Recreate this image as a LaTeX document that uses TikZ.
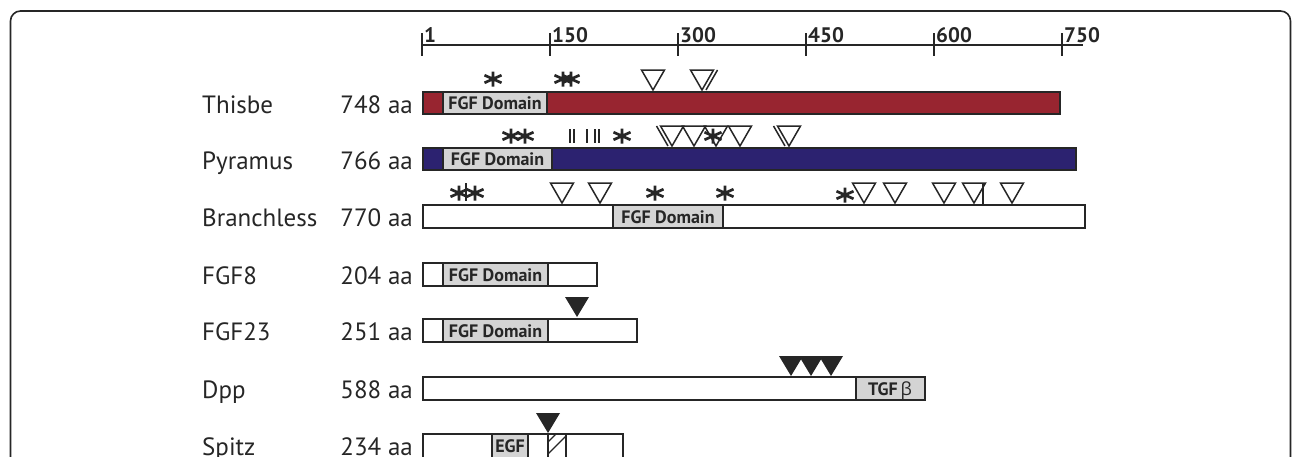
\documentclass[tikz,border=0pt]{standalone}
\usepackage{fontspec}
\setmainfont{PT Sans}
\newfontfamily\grk{Open Sans}
\definecolor{thred}{HTML}{982530}
\definecolor{pyblue}{HTML}{2C2270}
\definecolor{ink}{HTML}{262626}
\definecolor{domgray}{HTML}{D4D4D4}
\begin{document}
\begin{tikzpicture}[x=1pt,y=-1pt,
  gbar/.style={draw=ink, line width=1.7pt},
  gdom/.style={draw=ink, line width=1.7pt, fill=domgray},
  gdomtext/.style={font=\fontsize{18}{18}\selectfont\bfseries, text=ink, inner sep=0pt, anchor=base},
  gname/.style={font=\fontsize{25}{25}\selectfont, text=ink, anchor=base west, inner sep=0pt},
  glen/.style={font=\fontsize{25}{25}\selectfont, text=ink, anchor=base east, inner sep=0pt},
  gruler/.style={font=\fontsize{21}{21}\selectfont\bfseries, text=ink, anchor=base west, inner sep=0pt},
  astk/.pic={\draw[line width=2.7pt, ink] (0,-7.5)--(0,7.5) (-8.5,-3.8)--(8.5,3.8) (-8.5,3.8)--(8.5,-3.8);},
  otri/.pic={\draw[line width=1.5pt, ink, line join=miter] (-11.5,-20)--(11.5,-20)--(0,0)--cycle;},
  ftri/.pic={\fill[ink] (-12,-20)--(12,-20)--(0,0)--cycle;},
  gtick/.style={line width=1.8pt, ink},
  gmk/.style={line width=1.5pt, ink}
]
\useasboundingbox (0,0) rectangle (1292,456);
% frame
\draw[line width=1.6pt, ink, rounded corners=10pt] (10.5,490) -- (10.5,11) -- (1290.5,11) -- (1290.5,490);

% ruler
\draw[gtick] (422,45) -- (1083,45);
\foreach \i/\l in {0/1,1/150,2/300,3/450,4/600,5/750}{
  \draw[gtick] (422+128*\i,33) -- (422+128*\i,56);
  \node[gruler] (r\i) at (424+128*\i,42) {\l};
}

% names and lengths
\node[gname] (n1) at (202,113) {Thisbe};      \node[glen] (l1) at (413,113) {748 aa};
\node[gname] (n2) at (202,169) {Pyramus};     \node[glen] (l2) at (413,169) {766 aa};
\node[gname] (n3) at (202,226) {Branchless};  \node[glen] (l3) at (413,226) {770 aa};
\node[gname] (n4) at (202,284) {FGF8};        \node[glen] (l4) at (413,284) {204 aa};
\node[gname] (n5) at (202,340) {FGF23};       \node[glen] (l5) at (413,340) {251 aa};
\node[gname] (n6) at (202,398) {Dpp};         \node[glen] (l6) at (413,398) {588 aa};
\node[gname] (n7) at (202,455) {Spitz};       \node[glen] (l7) at (413,455) {234 aa};

% Thisbe
\draw[gbar, fill=thred] (423,92) rectangle (1060,114);
\draw[gdom] (443,92) rectangle (547,114);
\node[gdomtext] (d1) at (495,109) {FGF Domain};
\pic at (493,79) {astk};
\pic at (563,79) {astk};
\pic at (571,79) {astk};
\pic at (653,90) {otri};
\pic at (702,90) {otri};
\draw[gmk] (706,90) -- (717.5,70);

% Pyramus
\draw[gbar, fill=pyblue] (423,148) rectangle (1076,170);
\draw[gdom] (443,148) rectangle (552,170);
\node[gdomtext] (d2) at (497.5,165) {FGF Domain};
\pic at (511,136) {astk};
\pic at (525,136) {astk};
\foreach \x in {570,574,587,595,599}{\draw[gmk] (\x,129) -- (\x,143);}
\pic at (622,136) {astk};
\pic at (672,146) {otri};
\draw[gmk] (668,146) -- (656.5,126);
\pic at (694,146) {otri};
\pic at (716,146) {otri};
\pic at (740,146) {otri};
\pic at (713,136) {astk};
\pic at (789,146) {otri};
\draw[gmk] (785,146) -- (773.5,126);

% Branchless
\draw[gbar, fill=white] (423,205) rectangle (1085,228);
\draw[gdom] (613,205) rectangle (723,228);
\node[gdomtext] (d3) at (668,223) {FGF Domain};
\pic at (459,193) {astk};
\pic at (475,193) {astk};
\draw[gmk] (466,183) -- (466,201);
\pic at (562,203) {otri};
\pic at (600,203) {otri};
\pic at (655,193) {astk};
\pic at (725,193) {astk};
\pic at (845,195) {astk};
\foreach \x in {864,895,944,974,1012}{\pic at (\x,203) {otri};}
\draw[gmk] (983,183) -- (983,205);

% FGF8
\draw[gbar, fill=white] (423,263) rectangle (597,286);
\draw[gdom] (443,263) rectangle (548,286);
\node[gdomtext] (d4) at (495.5,281) {FGF Domain};

% FGF23
\draw[gbar, fill=white] (423,319) rectangle (637,342);
\draw[gdom] (443,319) rectangle (548,342);
\node[gdomtext] (d5) at (495.5,337) {FGF Domain};
\pic at (577,317) {ftri};

% Dpp
\draw[gbar, fill=white] (423,377) rectangle (925,400);
\draw[gdom] (856,377) rectangle (925,400);
\node[gdomtext] (d6) at (890,395) {TGF\,{\grk\mdseries β}};
\foreach \x in {791,811,831}{\pic at (\x,376) {ftri};}

% Spitz
\draw[gbar, fill=white] (423,434) rectangle (623,470);
\draw[gdom] (492,434) rectangle (528,470);
\node[gdomtext] (d7) at (510,452) {EGF};
\begin{scope}
  \clip (548,434) rectangle (566,470);
  \foreach \k in {-6,6,18}{\draw[line width=1.2pt, ink] (540,456-\k) -- (574,456-\k-34);}
\end{scope}
\draw[gbar] (548,434) rectangle (566,470);
\pic at (548,433) {ftri};
\end{tikzpicture}
\end{document}
